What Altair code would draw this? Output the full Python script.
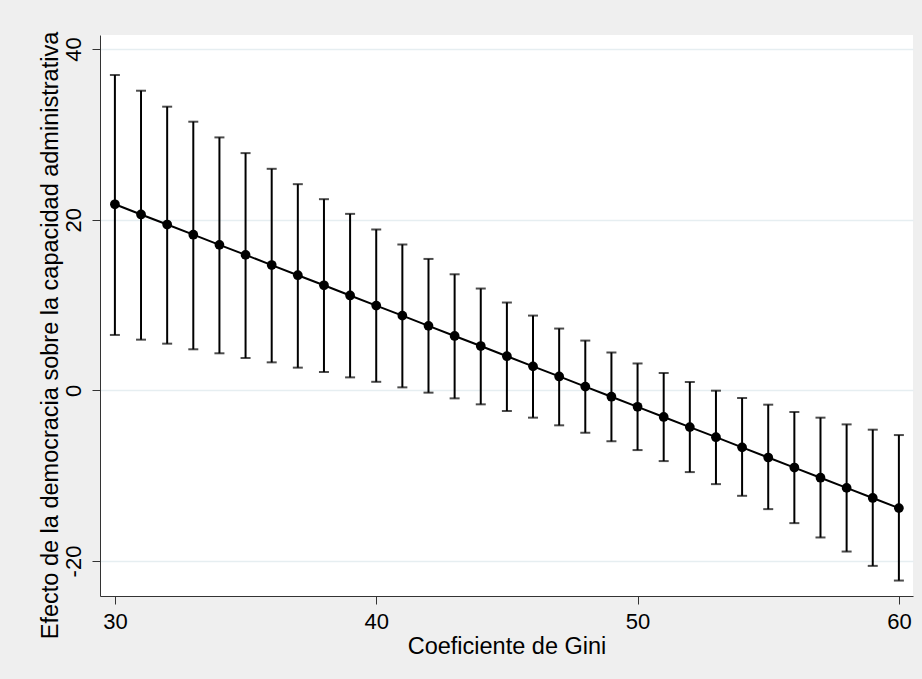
import altair as alt
import pandas as pd

gini = list(range(30, 61))
effect = [21.80, 20.61, 19.43, 18.24, 17.05, 15.87, 14.68, 13.49, 12.31, 11.12,
          9.93, 8.75, 7.56, 6.37, 5.19, 4.00, 2.81, 1.63, 0.44, -0.75,
          -1.93, -3.12, -4.31, -5.49, -6.68, -7.87, -9.05, -10.24, -11.43, -12.61,
          -13.80]
upper = [36.95, 35.11, 33.24, 31.48, 29.64, 27.80, 25.96, 24.16, 22.40, 20.68,
         18.85, 17.09, 15.40, 13.60, 11.93, 10.29, 8.76, 7.24, 5.83, 4.44,
         3.15, 2.03, 0.98, -0.04, -0.90, -1.68, -2.54, -3.20, -3.99, -4.61,
         -5.24]
lower = [6.49, 5.94, 5.47, 4.81, 4.34, 3.79, 3.28, 2.66, 2.15, 1.52,
         1.00, 0.35, -0.27, -0.94, -1.64, -2.42, -3.20, -4.10, -4.97, -5.98,
         -7.00, -8.29, -9.58, -10.99, -12.36, -13.92, -15.56, -17.24, -18.89, -20.57,
         -22.29]
x_ticks = [30, 40, 50, 60]
y_ticks = [-20, 0, 20, 40]

df = pd.DataFrame({"gini": gini, "effect": effect, "upper": upper, "lower": lower})

FONT = "Liberation Sans"

xscale = alt.Scale(domain=[29.43, 60.54], nice=False, zero=False)
yscale = alt.Scale(domain=[-24.10, 41.64], nice=False, zero=False)

xaxis = alt.Axis(values=x_ticks, title="Coeficiente de Gini", grid=False,
                 labelFont=FONT, labelFontSize=22, labelColor="black",
                 labelPadding=7, labelBaseline="top",
                 tickSize=8, tickColor="#333333", domainColor="#333333",
                 titleFont=FONT, titleFontSize=23.5, titleFontWeight="normal",
                 titleColor="black", titleBaseline="alphabetic", titleY=57)
yaxis = alt.Axis(values=y_ticks, title="Efecto de la democracia sobre la capacidad administrativa",
                 grid=True, gridColor="#e6eef1", gridWidth=1.5,
                 labelExpr="datum.value + ''",
                 labelFont=FONT, labelFontSize=22, labelColor="black",
                 labelAngle=-90, labelAlign="center", labelBaseline="alphabetic",
                 labelPadding=12,
                 tickSize=8, tickColor="#333333", domainColor="#333333",
                 titleFont=FONT, titleFontSize=23.5, titleFontWeight="normal",
                 titleColor="black", titleAngle=-90, titleAlign="center",
                 titleBaseline="alphabetic", titleX=-43, titleY=300)

base = alt.Chart(df)

rules = base.mark_rule(color="black", strokeWidth=2).encode(
    x=alt.X("gini:Q", scale=xscale, axis=xaxis),
    y=alt.Y("lower:Q", scale=yscale, axis=yaxis),
    y2="upper:Q",
)
caps_hi = base.mark_tick(color="black", orient="horizontal", size=10, thickness=2).encode(
    x=alt.X("gini:Q", scale=xscale), y=alt.Y("upper:Q", scale=yscale))
caps_lo = base.mark_tick(color="black", orient="horizontal", size=10, thickness=2).encode(
    x=alt.X("gini:Q", scale=xscale), y=alt.Y("lower:Q", scale=yscale))
line = base.mark_line(color="black", strokeWidth=2).encode(
    x=alt.X("gini:Q", scale=xscale), y=alt.Y("effect:Q", scale=yscale))
pts = base.mark_point(filled=True, color="black", size=95, opacity=1).encode(
    x=alt.X("gini:Q", scale=xscale), y=alt.Y("effect:Q", scale=yscale))

chart = alt.layer(rules, caps_hi, caps_lo, line, pts).properties(
    width=813, height=561,
    autosize=alt.AutoSizeParams(type="none"),
    padding={"left": 100, "top": 35, "right": 9, "bottom": 83},
    background="#efefef",
).configure_view(stroke=None, fill="white")

chart.save("out.html", embed_options={"renderer": "svg", "actions": False})
